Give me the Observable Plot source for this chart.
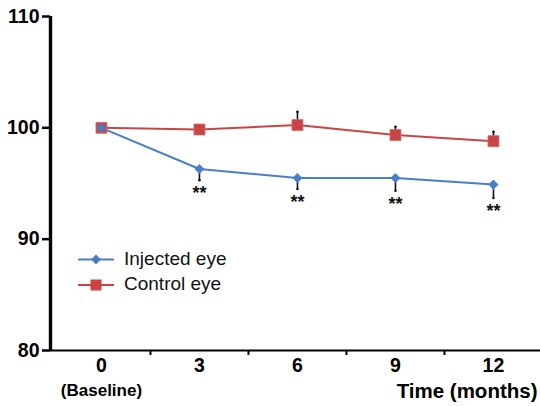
<!DOCTYPE html>
<html>
<head>
<meta charset="utf-8">
<script src="https://cdn.jsdelivr.net/npm/d3@7"></script>
<script src="https://cdn.jsdelivr.net/npm/@observablehq/plot@0.6"></script>
<style>
  html, body { margin: 0; padding: 0; background: #fff; }
  #wrap { position: relative; width: 540px; height: 406px; font-family: "Liberation Sans", Arial, sans-serif; }
  #legend { position: absolute; left: 0; top: 0; pointer-events: none; }
</style>
</head>
<body>
<div id="wrap"></div>
<script>
// ---- data ----
const months = [0, 3, 6, 9, 12];
const xTickLabels = ["0", "3", "6", "9", "12"];
const xSubLabel = [{month: 0, text: "(Baseline)"}];
const injected = [100, 96.3, 95.5, 95.5, 94.9];
const injectedErr = [0, 1.0, 1.0, 1.15, 1.2];
const control = [100, 99.85, 100.25, 99.35, 98.8];
const controlErr = [0, 0.3, 1.2, 0.75, 0.85];
const significance = ["", "**", "**", "**", "**"];
const yTicks = [80, 90, 100, 110];
const seriesNames = ["Injected eye", "Control eye"];
const xAxisTitle = "Time (months)";

// ---- style ----
const blue = "#4a7ec6";
const red = "#c94545";
const font = "'Liberation Sans', Arial, sans-serif";
const xDomain = [-1.56, 13.44];
const yDomain = [80, 110];

const inj = months.map((m, i) => ({month: m, value: injected[i], err: injectedErr[i], sig: significance[i]}));
const ctl = months.map((m, i) => ({month: m, value: control[i], err: controlErr[i]}));
const labelMap = new Map(months.map((m, i) => [m, xTickLabels[i]]));
const midTicks = months.slice(0, -1).map((m, i) => (m + months[i + 1]) / 2);

const chart = Plot.plot({
  width: 540,
  height: 406,
  marginLeft: 50,
  marginRight: 0,
  marginTop: 16,
  marginBottom: 56,
  style: {fontFamily: font, color: "#000", background: "#fff"},
  x: {domain: xDomain},
  y: {domain: yDomain},
  marks: [
    Plot.axisY({ticks: yTicks, tickSize: 8, tickPadding: 3, fontSize: 19.5, fontWeight: "bold", label: null, strokeWidth: 2.5, tickFormat: d => d}),
    Plot.axisX({ticks: months, tickSize: 0, tickPadding: 8, fontSize: 19.5, fontWeight: "bold", label: null, tickFormat: d => labelMap.get(d)}),
    Plot.axisX({ticks: midTicks, tickSize: 5, strokeWidth: 2, tickFormat: () => "", label: null}),
    Plot.ruleY([yDomain[0]], {stroke: "#000", strokeWidth: 2}),
    Plot.ruleX([xDomain[0]], {stroke: "#000", strokeWidth: 3.4}),
    Plot.text(xSubLabel, {x: "month", y: () => yDomain[0], text: "text", lineAnchor: "bottom", dy: 45, fontSize: 17, fontWeight: "bold"}),
    Plot.text([xAxisTitle], {frameAnchor: "bottom-right", textAnchor: "end", lineAnchor: "bottom", dx: -3, dy: 47, fontSize: 20.5, fontWeight: "bold"}),
    // lines
    Plot.line(ctl, {x: "month", y: "value", stroke: red, strokeWidth: 2}),
    Plot.line(inj, {x: "month", y: "value", stroke: blue, strokeWidth: 2}),
    // error bars
    Plot.ruleX(ctl.filter(d => d.err > 0), {x: "month", y1: "value", y2: d => d.value + d.err, stroke: "#111", strokeWidth: 1.6}),
    Plot.dot(ctl.filter(d => d.err > 0), {x: "month", y: d => d.value + d.err, r: 1.3, fill: "#111"}),
    Plot.ruleX(inj.filter(d => d.err > 0), {x: "month", y1: "value", y2: d => d.value - d.err, stroke: "#111", strokeWidth: 1.6}),
    Plot.dot(inj.filter(d => d.err > 0), {x: "month", y: d => d.value - d.err, r: 1.3, fill: "#111"}),
    // markers
    Plot.dot(ctl, {x: "month", y: "value", symbol: "square", r: 6.2, fill: red, stroke: "#d86a6a", strokeWidth: 0.8}),
    Plot.dot(inj, {x: "month", y: "value", symbol: "diamond2", r: 4.3, fill: blue, stroke: blue, strokeWidth: 0.5}),
    // significance
    Plot.text(inj.filter(d => d.sig), {x: "month", y: d => d.value - d.err, text: "sig", lineAnchor: "top", dy: 6, fontSize: 18, fontWeight: "bold", fill: "#111"})
  ]
});

const wrap = document.getElementById("wrap");
wrap.appendChild(chart);

// ---- legend (overlay, inside the plot area as in the original) ----
const legendItems = [
  {name: seriesNames[0], color: blue, symbol: "diamond"},
  {name: seriesNames[1], color: red, symbol: "square"}
];
const leg = d3.select(wrap).append("svg")
  .attr("id", "legend")
  .attr("width", 540).attr("height", 406);
legendItems.forEach((item, i) => {
  const cy = 259.5 + i * 25.5;
  const g = leg.append("g");
  g.append("line").attr("x1", 78).attr("x2", 114).attr("y1", cy).attr("y2", cy)
    .attr("stroke", item.color).attr("stroke-width", 2);
  if (item.symbol === "square") {
    g.append("rect").attr("x", 96 - 5.5).attr("y", cy - 5.5).attr("width", 11).attr("height", 11)
      .attr("fill", item.color);
  } else {
    g.append("path").attr("d", `M96,${cy - 5}L101,${cy}L96,${cy + 5}L91,${cy}Z`).attr("fill", item.color);
  }
  g.append("text").attr("x", 124).attr("y", cy + 5)
    .attr("font-family", font).attr("font-size", 19).attr("fill", "#111")
    .text(item.name);
});
</script>
</body>
</html>
